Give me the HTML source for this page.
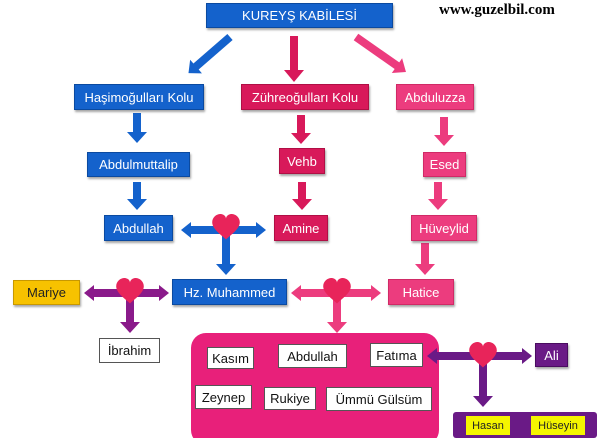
<!DOCTYPE html>
<html><head><meta charset="utf-8">
<style>
html,body{margin:0;padding:0;background:#fff;}
body{width:601px;height:438px;position:relative;overflow:hidden;font-family:"Liberation Sans",sans-serif;}
.b{position:absolute;display:flex;align-items:center;justify-content:center;color:#fff;font-size:13px;box-sizing:border-box;box-shadow:1px 2px 2px rgba(0,0,0,0.35);white-space:nowrap;}
.blue{background:#1462cc;border:1px solid #0b4aa0;}
.red{background:#d8195a;border:1px solid #b00f45;}
.pink{background:#ec3c7e;border:1px solid #d02a66;}
.w{background:#fff;color:#111;border:1px solid #555;box-shadow:none;}
svg{position:absolute;left:0;top:0;}
</style></head><body>
<svg width="601" height="438" viewBox="0 0 601 438">
<defs>
<path id="h" d="M0,10 C-4,6 -12,1 -12,-5 C-12,-10 -7,-13 -3.5,-12 C-1.5,-11.5 0,-10 0,-8 C0,-10 1.5,-11.5 3.5,-12 C7,-13 12,-10 12,-5 C12,1 4,6 0,10Z"/>
</defs>
<!-- big pink box -->
<rect x="191" y="333" width="248" height="112" rx="15" fill="#e8207a"/>
<rect x="453" y="412" width="144" height="26" rx="3" fill="#6a1a86"/>
<!-- top diagonal arrows -->
<g transform="translate(230,37) rotate(49)"><polygon points="-4,0 4,0 4,45 9,45 0,55 -9,45 -4,45" fill="#1462cc"/></g>
<polygon points="290,36 298,36 298,70 304,70 294,82 284,70 290,70" fill="#d8195a"/>
<g transform="translate(356,37) rotate(-55)"><polygon points="-4,0 4,0 4,50 9,50 0,61 -9,50 -4,50" fill="#ec3c7e"/></g>
<!-- vertical arrows -->
<polygon points="133,113 141,113 141,132 147,132 137,143 127,132 133,132" fill="#1462cc"/>
<polygon points="297,115 305,115 305,133 311,133 301,144 291,133 297,133" fill="#d8195a"/>
<polygon points="440,117 448,117 448,135 454,135 444,146 434,135 440,135" fill="#ec3c7e"/>
<polygon points="133,182 141,182 141,199 147,199 137,210 127,199 133,199" fill="#1462cc"/>
<polygon points="298,182 306,182 306,199 312,199 302,210 292,199 298,199" fill="#d8195a"/>
<polygon points="434,182 442,182 442,199 448,199 438,210 428,199 434,199" fill="#ec3c7e"/>
<polygon points="421,243 429,243 429,264 435,264 425,275 415,264 421,264" fill="#ec3c7e"/>
<!-- Abdullah-Amine -->
<polygon points="181,230 191,222 191,226 256,226 256,222 266,230 256,238 256,234 191,234 191,238" fill="#1462cc"/>
<polygon points="222,230 230,230 230,264 236,264 226,275 216,264 222,264" fill="#1462cc"/>
<use href="#h" transform="translate(226,228) scale(1.15)" fill="#e8245a"/>
<!-- Mariye -->
<polygon points="84,293 94,285 94,289 159,289 159,285 169,293 159,301 159,297 94,297 94,301" fill="#8a1a8a"/>
<polygon points="126,293 134,293 134,322 140,322 130,333 120,322 126,322" fill="#8a1a8a"/>
<use href="#h" transform="translate(130,292) scale(1.15)" fill="#e8245a"/>
<!-- Hatice -->
<polygon points="291,293 301,285 301,289 371,289 371,285 381,293 371,301 371,297 301,297 301,301" fill="#ec3c7e"/>
<polygon points="333,293 341,293 341,322 347,322 337,333 327,322 333,322" fill="#ec3c7e"/>
<use href="#h" transform="translate(337,292) scale(1.15)" fill="#e8245a"/>
<!-- Ali -->
<polygon points="427,356 437,348 437,352 522,352 522,348 532,356 522,364 522,360 437,360 437,364" fill="#6a1a86"/>
<polygon points="479,356 487,356 487,396 493,396 483,407 473,396 479,396" fill="#6a1a86"/>
<use href="#h" transform="translate(483,356) scale(1.15)" fill="#e8245a"/>
</svg>

<div class="b blue" style="left:206px;top:3px;width:187px;height:25px;">KUREYŞ KABİLESİ</div>
<div style="position:absolute;left:439px;top:2px;font:bold 15px 'Liberation Serif',serif;color:#000;">www.guzelbil.com</div>

<div class="b blue" style="left:74px;top:84px;width:130px;height:26px;">Haşimoğulları Kolu</div>
<div class="b red" style="left:241px;top:84px;width:128px;height:26px;">Zühreoğulları Kolu</div>
<div class="b pink" style="left:396px;top:84px;width:78px;height:26px;">Abduluzza</div>

<div class="b blue" style="left:87px;top:152px;width:103px;height:25px;">Abdulmuttalip</div>
<div class="b red" style="left:279px;top:148px;width:46px;height:26px;">Vehb</div>
<div class="b pink" style="left:423px;top:152px;width:43px;height:25px;">Esed</div>

<div class="b blue" style="left:104px;top:215px;width:69px;height:26px;">Abdullah</div>
<div class="b red" style="left:274px;top:215px;width:54px;height:26px;">Amine</div>
<div class="b pink" style="left:411px;top:215px;width:66px;height:26px;">Hüveylid</div>

<div class="b" style="left:13px;top:280px;width:67px;height:25px;background:#f7c200;border:1px solid #c89800;color:#222;">Mariye</div>
<div class="b blue" style="left:172px;top:279px;width:115px;height:26px;">Hz. Muhammed</div>
<div class="b pink" style="left:388px;top:279px;width:66px;height:26px;">Hatice</div>
<div class="b w" style="left:99px;top:338px;width:61px;height:25px;">İbrahim</div>

<div class="b w" style="left:207px;top:347px;width:47px;height:22px;">Kasım</div>
<div class="b w" style="left:278px;top:344px;width:69px;height:24px;">Abdullah</div>
<div class="b w" style="left:370px;top:343px;width:53px;height:24px;">Fatıma</div>
<div class="b w" style="left:195px;top:385px;width:57px;height:24px;">Zeynep</div>
<div class="b w" style="left:264px;top:387px;width:52px;height:23px;">Rukiye</div>
<div class="b w" style="left:326px;top:387px;width:106px;height:24px;">Ümmü Gülsüm</div>

<div class="b" style="left:535px;top:343px;width:33px;height:24px;background:#6a1a86;border:1px solid #4a0c60;">Ali</div>
<div class="b" style="left:466px;top:416px;width:44px;height:19px;background:#f5f500;color:#222;font-size:11px;box-shadow:none;">Hasan</div>
<div class="b" style="left:531px;top:416px;width:54px;height:19px;background:#f5f500;color:#222;font-size:11px;box-shadow:none;">Hüseyin</div>
</body></html>
